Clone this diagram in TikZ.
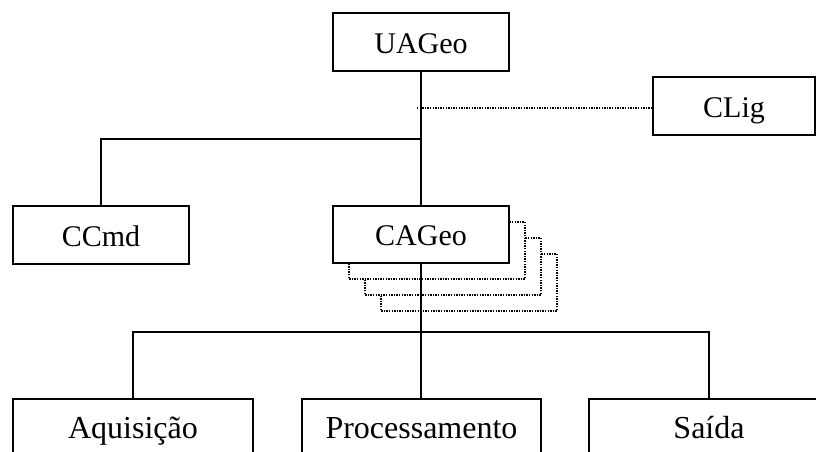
\documentclass[tikz,border=0pt]{standalone}
\usepackage{fontspec}
\setmainfont{Liberation Serif}
\begin{document}
\begin{tikzpicture}[x=1pt,y=-1pt,
  unit/.style={draw=black, line width=1.8pt, fill=white, inner sep=0pt,
    text height=26pt, text depth=4pt,
    font=\fontsize{30}{36}\selectfont},
  stage/.style={unit, font=\fontsize{32}{38}\selectfont},
  link/.style={line width=1.8pt},
  dotline/.style={line width=1.4pt, dash pattern=on 1.4pt off 1.2pt},
  copybox/.style={dotline, fill=white}]
\useasboundingbox (0,0) rectangle (816,452);
\clip (0,0) rectangle (816,452);

% top-level unit and the liaison box
\node[unit, minimum width=176pt, minimum height=58pt] (UAGeo) at (421,42) {UAGeo};
\node[unit, minimum width=162pt, minimum height=58pt] (CLig) at (734,106) {CLig};
\node[unit, minimum width=176pt, minimum height=58pt] (CCmd) at (101,235) {CCmd};

% stacked copies behind the geographic analysis component
\foreach \k in {3,2,1}
  \draw[copybox] (333+16*\k,206+16*\k) rectangle (509+16*\k,263+16*\k);
\node[unit, minimum width=176pt, minimum height=57pt] (CAGeo) at (421,234.5) {CAGeo};

% processing stages
\node[stage, minimum width=240pt, minimum height=56pt] (Aq) at (133,427) {Aquisição};
\node[stage, minimum width=239pt, minimum height=56pt] (Proc) at (421.5,427) {Processamento};
\node[stage, minimum width=240pt, minimum height=56pt] (Sai) at (709,427) {Saída};

% connectors
\coordinate (j1) at (421,139);
\coordinate (j2) at (421,332);
\coordinate (tap) at (417,108);
\draw[link] (UAGeo.south) -- (CAGeo.north);
\draw[link] (j1) -| (CCmd.north);
\draw[dotline] (tap) -- (CLig.west |- tap);
\draw[link] (CAGeo.south) -- (j2 |- Proc.north);
\draw[link] (Aq.north) |- (j2) -| (Sai.north);
\end{tikzpicture}
\end{document}
